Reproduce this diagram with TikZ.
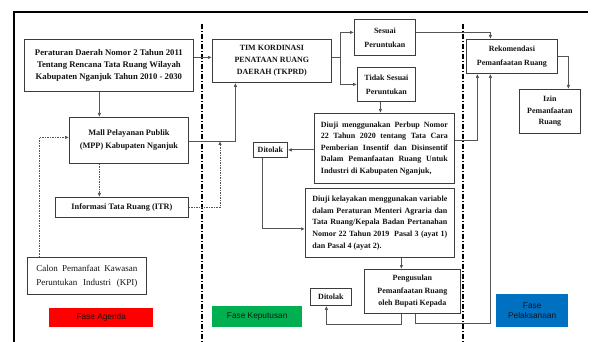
\documentclass[tikz,border=0pt]{standalone}
\usepackage{fontspec}
\setmainfont{Liberation Serif}
\newfontfamily\phasefont{Liberation Sans}
\usetikzlibrary{arrows.meta,positioning,calc}
\definecolor{ink}{RGB}{20,20,20}
\definecolor{frameline}{RGB}{60,60,60}
\definecolor{wire}{RGB}{85,85,85}
\definecolor{agenda}{RGB}{255,0,0}
\definecolor{putusan}{RGB}{0,176,80}
\definecolor{laksana}{RGB}{0,112,192}

\begin{document}
\begin{tikzpicture}[x=1pt,y=-1pt,
    box/.style={draw=frameline,fill=white,line width=0.8pt,inner sep=0pt,
      anchor=north west,align=center,text=ink,
      font=\fontsize{8}{12}\selectfont\bfseries},
    phase/.style={inner sep=0pt,anchor=north west,align=center,text=ink,
      font=\fontsize{8.3}{10}\selectfont\phasefont},
    link/.style={draw=wire,line width=0.8pt,-{Latex[length=4pt,width=3.5pt]}},
    hint/.style={link,dash pattern=on 1.5pt off 1pt},
    divider/.style={draw=black,line width=1.2pt,
      dash pattern=on 5pt off 2pt on 1pt off 2pt}]
  \useasboundingbox (0,0) rectangle (595,342);

  % frame and phase dividers
  \draw[line width=2pt] (14,342) -- (14,12) -- (588,12);
  \draw[divider] (202,24) -- (202,342);
  \draw[divider] (463,24) -- (463,342);

  % fase agenda
  \node[box,minimum width=169pt,minimum height=52pt,
    font=\fontsize{8.7}{11.7}\selectfont\bfseries] (perda) at (24,39)
    {Peraturan Daerah Nomor 2 Tahun 2011\\Tentang Rencana Tata Ruang Wilayah\\
     Kabupaten Nganjuk Tahun 2010 - 2030};
  \node[box,minimum width=119pt,minimum height=46pt,
    font=\fontsize{8.3}{13}\selectfont\bfseries] (mpp) at (69,117)
    {Mall Pelayanan Publik\\(MPP) Kabupaten Nganjuk};
  \node[box,minimum width=133pt,minimum height=20pt,
    font=\fontsize{8.3}{13}\selectfont\bfseries] (itr) at (55,197)
    {Informasi Tata Ruang (ITR)};
  \node[box,minimum width=119pt,minimum height=37pt,
    font=\fontsize{9}{14}\selectfont] (kpi) at (27,257)
    {\makebox[101pt][s]{Calon Pemanfaat Kawasan}\\
     \makebox[101pt][s]{Peruntukan Industri (KPI)}};
  \node[phase,fill=agenda,minimum width=104pt,minimum height=19pt] (agenda)
    at (49,308) {Fase Agenda};

  % fase keputusan
  \node[box,minimum width=119pt,minimum height=43pt] (tkprd) at (212,39)
    {TIM KORDINASI\\PENATAAN RUANG\\DAERAH (TKPRD)};
  \node[box,minimum width=61pt,minimum height=36pt,
    font=\fontsize{8}{14}\selectfont\bfseries] (sesuai) at (354,19)
    {Sesuai\\Peruntukan};
  \node[box,minimum width=58pt,minimum height=34pt,
    font=\fontsize{8}{14}\selectfont\bfseries] (tidak) at (357,67)
    {Tidak Sesuai\\Peruntukan};
  \node[box,minimum width=140pt,minimum height=70pt,
    font=\fontsize{8}{11.6}\selectfont\bfseries] (perbup) at (314,113)
    {\makebox[127pt][s]{Diuji menggunakan Perbup Nomor}\\
     \makebox[127pt][s]{22 Tahun 2020 tentang Tata Cara}\\
     \makebox[127pt][s]{Pemberian Insentif dan Disinsentif}\\
     \makebox[127pt][s]{Dalam Pemanfaatan Ruang Untuk}\\
     \makebox[127pt][l]{Industri di Kabupaten Nganjuk,}};
  \node[box,minimum width=34pt,minimum height=15pt] (tolaksatu) at (253,142)
    {Ditolak};
  \node[box,minimum width=149pt,minimum height=69pt,
    font=\fontsize{8}{11.6}\selectfont\bfseries] (layak) at (305,188)
    {\makebox[135pt][s]{Diuji kelayakan menggunakan variable}\\
     \makebox[135pt][s]{dalam Peraturan Menteri Agraria dan}\\
     \makebox[135pt][s]{Tata Ruang/Kepala Badan Pertanahan}\\
     \makebox[135pt][s]{Nomor 22 Tahun 2019 \ Pasal 3 (ayat 1)}\\
     \makebox[135pt][l]{dan Pasal 4 (ayat 2).}};
  \node[box,minimum width=96pt,minimum height=44pt,
    font=\fontsize{8}{12.5}\selectfont\bfseries] (usul) at (364,269)
    {Pengusulan\\Pemanfaatan Ruang\\oleh Bupati Kepada};
  \node[box,minimum width=41pt,minimum height=17pt] (toladua) at (310,288)
    {Ditolak};
  \node[phase,fill=putusan,minimum width=90pt,minimum height=21pt] (putus)
    at (212,306) {Fase Keputusan};

  % fase pelaksanaan
  \node[box,minimum width=91pt,minimum height=34pt,
    font=\fontsize{8}{14}\selectfont\bfseries] (rekom) at (466,39)
    {Rekomendasi\\Pemanfaatan Ruang};
  \node[box,minimum width=61pt,minimum height=44pt,
    font=\fontsize{8}{11.5}\selectfont\bfseries] (izin) at (519,89)
    {Izin\\Pemanfaatan\\Ruang};
  \node[phase,fill=laksana,minimum width=72pt,minimum height=33pt] (laksana)
    at (496,294) {Fase\\Pelaksanaan};

  \coordinate (itrjoin) at (220,141);

  % connectors
  \draw[link] ([xshift=-9.5pt]perda.south) -- ([xshift=-9.5pt]perda.south |- mpp.north);
  \draw[link] ([yshift=8pt]perda.east) -- ([yshift=8pt]perda.east -| tkprd.west);
  \draw[link] ([yshift=-1pt]mpp.east) -| ([xshift=-36.5pt]tkprd.south);
  \draw[hint] ([xshift=-29.5pt]mpp.south) -- ([xshift=-29.5pt]mpp.south |- itr.north);
  \draw[hint] (itr.east) -| (itrjoin);
  \draw[hint] ([xshift=-47.5pt]kpi.north) |- ([yshift=3pt]mpp.west);
  \draw[link] ([yshift=3.5pt]tkprd.east) -- ++(9,0) coordinate (fork)
    |- ([yshift=5pt]sesuai.west);
  \draw[link] (fork) |- (tidak.west);
  \draw[link] ([yshift=5pt]sesuai.east) -| ([xshift=-21.5pt]rekom.north);
  \draw[link] ([xshift=-6pt]tidak.south) -- ([xshift=-6pt]tidak.south |- perbup.north);
  \draw[link] ([yshift=8pt]perbup.east) -| ([xshift=-34.5pt]rekom.south);
  \draw[link] (perbup.west |- tolaksatu.east) -- (tolaksatu.east);
  \draw[link] ([xshift=-8pt]tolaksatu.south) |- ([yshift=-6pt]layak.west);
  \draw[link] ([xshift=21.5pt]layak.south) -- ([xshift=21.5pt]layak.south |- usul.north);
  \draw[link] ([xshift=-11pt]usul.south) -- ++(0,11) -| ([xshift=-4.5pt]toladua.south);
  \draw[link] ([xshift=3pt]usul.south) -- ++(0,10) -| ([xshift=-21.5pt]rekom.south);
  \draw[link] (rekom.east) -| ([xshift=18.5pt]izin.north);
\end{tikzpicture}
\end{document}
